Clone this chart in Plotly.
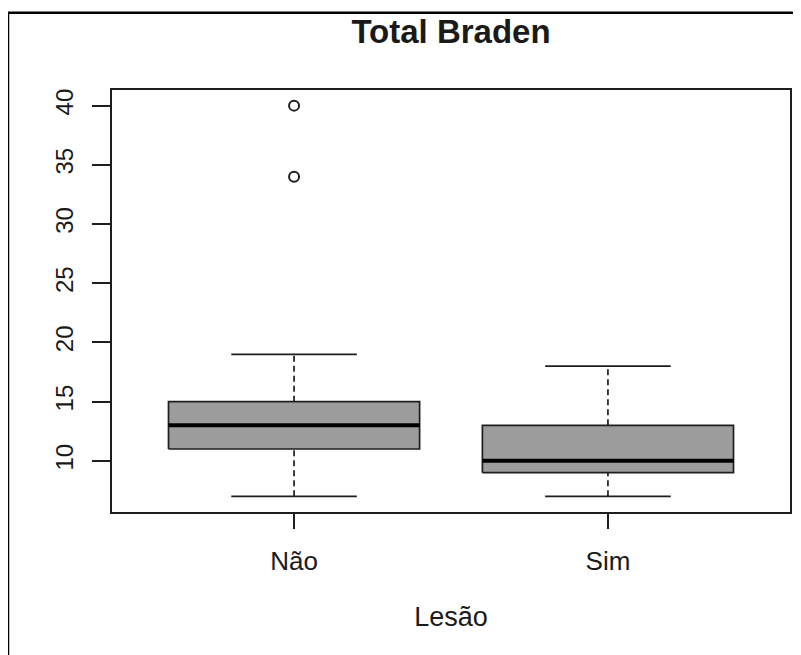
import plotly.graph_objects as go

# ---- data ----
categories = ["Não", "Sim"]
lower_whisker = [7, 7]
q1 = [11, 9]
median = [13, 10]
q3 = [15, 13]
upper_whisker = [19, 18]
outliers = [[40, 34], []]
y_ticks = [10, 15, 20, 25, 30, 35, 40]

positions = [1, 2]
box_half = 0.4
cap_half = 0.2

FONT = "Liberation Sans, Arial, sans-serif"
TXT = "#1a1a1a"
LINE = "#1e1e1e"

fig = go.Figure()

for i, p in enumerate(positions):
    # box
    fig.add_trace(go.Scatter(
        x=[p - box_half, p + box_half, p + box_half, p - box_half, p - box_half],
        y=[q1[i], q1[i], q3[i], q3[i], q1[i]],
        mode="lines", fill="toself", fillcolor="#9c9c9c",
        line=dict(color=LINE, width=1.7), hoverinfo="skip", showlegend=False))
    # whiskers (dashed)
    for a, b in ((q3[i], upper_whisker[i]), (lower_whisker[i], q1[i])):
        fig.add_trace(go.Scatter(
            x=[p, p], y=[a, b], mode="lines",
            line=dict(color=LINE, width=1.7, dash="6px,4px"),
            hoverinfo="skip", showlegend=False))
    # caps
    for v in (upper_whisker[i], lower_whisker[i]):
        fig.add_trace(go.Scatter(
            x=[p - cap_half, p + cap_half], y=[v, v], mode="lines",
            line=dict(color=LINE, width=1.7),
            hoverinfo="skip", showlegend=False))
    # median
    fig.add_trace(go.Scatter(
        x=[p - box_half, p + box_half], y=[median[i], median[i]], mode="lines",
        line=dict(color="black", width=4), hoverinfo="skip", showlegend=False))
    # outliers
    if outliers[i]:
        fig.add_trace(go.Scatter(
            x=[p] * len(outliers[i]), y=outliers[i], mode="markers",
            marker=dict(symbol="circle-open", size=10, color=LINE,
                        line=dict(width=2, color=LINE)),
            hoverinfo="skip", showlegend=False))

# the page places the figure 8px in from the top-left corner
OFF = 8
W, H = 801, 655
L, T = 112 - OFF, 90 - OFF
R = W - (790 - OFF)
B = H - (512 - OFF)
pw, ph = W - L - R, H - T - B

def px(xpix):
    return (xpix - OFF - L) / pw

def py(ypix):
    return (H - B - (ypix - OFF)) / ph

fig.update_layout(
    width=W, height=H,
    margin=dict(l=L, r=R, t=T, b=B, autoexpand=False),
    paper_bgcolor="white", plot_bgcolor="white",
    font=dict(family=FONT, color=TXT),
    title=dict(text="<b>Total Braden</b>", font=dict(size=33, family=FONT, color=TXT),
               x=0.5, xref="paper", xanchor="center",
               y=1 - (31 - OFF) / H, yref="container", yanchor="middle"),
    xaxis=dict(range=[0.42, 2.58], tickvals=positions, ticktext=categories,
               ticks="outside", ticklen=15, tickwidth=1.7, tickcolor=LINE,
               ticklabelstandoff=10,
               showline=True, mirror=True, linecolor=LINE, linewidth=1.7,
               showgrid=False, zeroline=False,
               tickfont=dict(size=26, family=FONT, color=TXT),
               title=dict(text="Lesão", font=dict(size=27, family=FONT, color=TXT),
                          standoff=32)),
    yaxis=dict(range=[5.68, 41.32], tickvals=y_ticks,
               ticks="outside", ticklen=18, tickwidth=1.7, tickcolor=LINE,
               tickangle=-90, ticklabelstandoff=10,
               showline=True, mirror=True, linecolor=LINE, linewidth=1.7,
               showgrid=False, zeroline=False,
               tickfont=dict(size=24, family=FONT, color=TXT)),
    shapes=[
        dict(type="line", xref="paper", yref="paper",
             x0=px(8), x1=px(801), y0=py(12.8), y1=py(12.8),
             line=dict(color="black", width=2.5)),
        dict(type="line", xref="paper", yref="paper",
             x0=px(8), x1=px(8), y0=py(12.8), y1=py(655),
             line=dict(color="black", width=2.5)),
    ],
)

fig.write_html("out.html")
